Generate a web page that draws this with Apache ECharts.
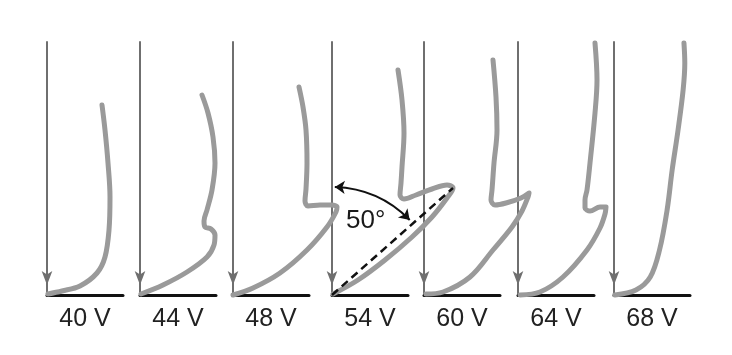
<!DOCTYPE html>
<html><head><meta charset="utf-8">
<script src="https://cdn.jsdelivr.net/npm/echarts@6/dist/echarts.min.js"></script>
<style>html,body{margin:0;padding:0;background:#fff}#c{width:732px;height:355px}</style>
</head><body><div id="c"></div>
<script>
// ---- data (profile coordinates, x = lateral, y = height above base) ----
const voltages = ['40 V', '44 V', '48 V', '54 V', '60 V', '64 V', '68 V'];
const curve40 = [[1,1],[15,4],[33,9],[50,22],[58,38],[62,65],[63,98],[61,132],[58,165],[55,190]];
const curve44 = [[1,1],[23,10],[47,23],[67,38],[74,50],[75,60],[71,66],[65,68],[64,74],[67,85],[72,105],[75,132],[73,158],[68,182],[62,200]];
const curve48 = [[0,0],[20,7],[47,22],[74,45],[94,68],[103,83],[104,88],[99,90],[87,90],[75,89],[72,94],[73,106],[74,132],[73,165],[70,188],[66,208]];
const curve54 = [[1,1],[26,15],[53,35],[80,58],[100,78],[115,97],[121,107],[115,110],[100,106],[84,100],[72,96],[68,100],[69,112],[70,128],[72,162],[70,195],[66,225]];
const curve60 = [[2,1],[19,3],[46,18],[69,45],[88,68],[98,84],[104,98],[105,102],[97,97],[82,92],[71,90],[67,95],[68,105],[70,132],[73,165],[72,198],[69,235]];
const curve64 = [[2,0],[22,3],[45,18],[69,45],[82,67],[87,81],[88,88],[82,88],[72,84],[67,87],[67,95],[69,105],[72,132],[77,182],[79,215],[77,252]];
const curve68 = [[1,0],[26,5],[43,18],[54,45],[63,85],[69,125],[76,165],[82,205],[84,232],[83,252]];
const curves = [curve40, curve44, curve48, curve54, curve60, curve64, curve68];
const contactAngle = 50;          // degrees, marked on the 54 V profile
const angleLabel = '50°';

// ---- layout ----
const panelLeft = [47, 140, 233, 332, 424, 518, 614];
const plotTop = 42, baseWidth = 76, plotHeight = 253, curveWidth = 140;
const markPanel = 3;
const n = voltages.length;
const font = 'Liberation Sans, Arial, Helvetica, sans-serif';

const grids = [], xAxes = [], yAxes = [], series = [];
const hidden = {show: false};
voltages.forEach((v, i) => {
  // axis panel: baseline (x axis) + downward arrow (y axis) + label
  grids.push({left: panelLeft[i], top: plotTop, width: baseWidth, height: plotHeight});
  xAxes.push({
    type: 'value', gridIndex: i, min: 0, max: baseWidth,
    name: v, nameLocation: 'middle', nameGap: 12,
    nameTextStyle: {fontFamily: font, fontSize: 25, color: '#222'},
    axisLine: {show: true, onZero: false, lineStyle: {color: '#111', width: 3}},
    axisTick: hidden, axisLabel: hidden, splitLine: hidden
  });
  yAxes.push({
    type: 'value', gridIndex: i, min: 0, max: plotHeight,
    axisLine: {show: true, onZero: false, symbol: ['arrow', 'none'], symbolSize: [8, 14], symbolOffset: [10, 0],
               lineStyle: {color: '#6f6f6f', width: 2}},
    axisTick: hidden, axisLabel: hidden, splitLine: hidden
  });
});
voltages.forEach((v, i) => {
  // wider overlay panel for the profile, same origin and scale
  const g = n + i;
  grids.push({left: panelLeft[i], top: plotTop, width: curveWidth, height: plotHeight});
  xAxes.push({type: 'value', gridIndex: g, min: 0, max: curveWidth, show: false});
  yAxes.push({type: 'value', gridIndex: g, min: 0, max: plotHeight, show: false});
  series.push({
    type: 'line', xAxisIndex: g, yAxisIndex: g, data: curves[i],
    showSymbol: false, symbol: 'none', smooth: 0.35, clip: false, z: 3,
    lineStyle: {color: '#9a9a9a', width: 5, cap: 'round', join: 'round'}
  });
});

const mg = n + markPanel;
// dashed tangent from origin to the tip of the 54 V profile
const tip = curve54.reduce((a, b) => (b[0] > a[0] ? b : a));
series.push({
  type: 'line', xAxisIndex: mg, yAxisIndex: mg, data: [[0, 0], tip],
  showSymbol: false, symbol: 'none', clip: false, z: 4,
  lineStyle: {color: '#111', width: 2.5, type: [8, 5]}
});

// angle arc (double-headed) around the base point
const R = 108;
const pt = a => [R * Math.sin(a * Math.PI / 180), R * Math.cos(a * Math.PI / 180)];
series.push({
  type: 'lines', coordinateSystem: 'cartesian2d', xAxisIndex: mg, yAxisIndex: mg,
  clip: false, z: 4,
  symbol: ['arrow', 'arrow'], symbolSize: 10,
  lineStyle: {color: '#111', width: 2, opacity: 1, curveness: 0.2},
  data: [{coords: [pt(1.5), pt(contactAngle - 4)]}]
});
const mid = (contactAngle / 2) * Math.PI / 180;
series.push({
  type: 'scatter', xAxisIndex: mg, yAxisIndex: mg, clip: false, z: 5,
  symbol: 'circle', symbolSize: 0, itemStyle: {color: '#111', opacity: 1},
  data: [[82 * Math.sin(mid) - 1, 82 * Math.cos(mid)]],
  label: {show: true, position: 'inside', formatter: angleLabel, fontFamily: font,
          fontSize: 26, color: '#1a1a1a', opacity: 1, textBorderWidth: 0}
});

const chart = echarts.init(document.getElementById('c'), null, {renderer: 'canvas'});
chart.setOption({
  animation: false, backgroundColor: '#fff',
  grid: grids, xAxis: xAxes, yAxis: yAxes, series: series
});
</script></body></html>
